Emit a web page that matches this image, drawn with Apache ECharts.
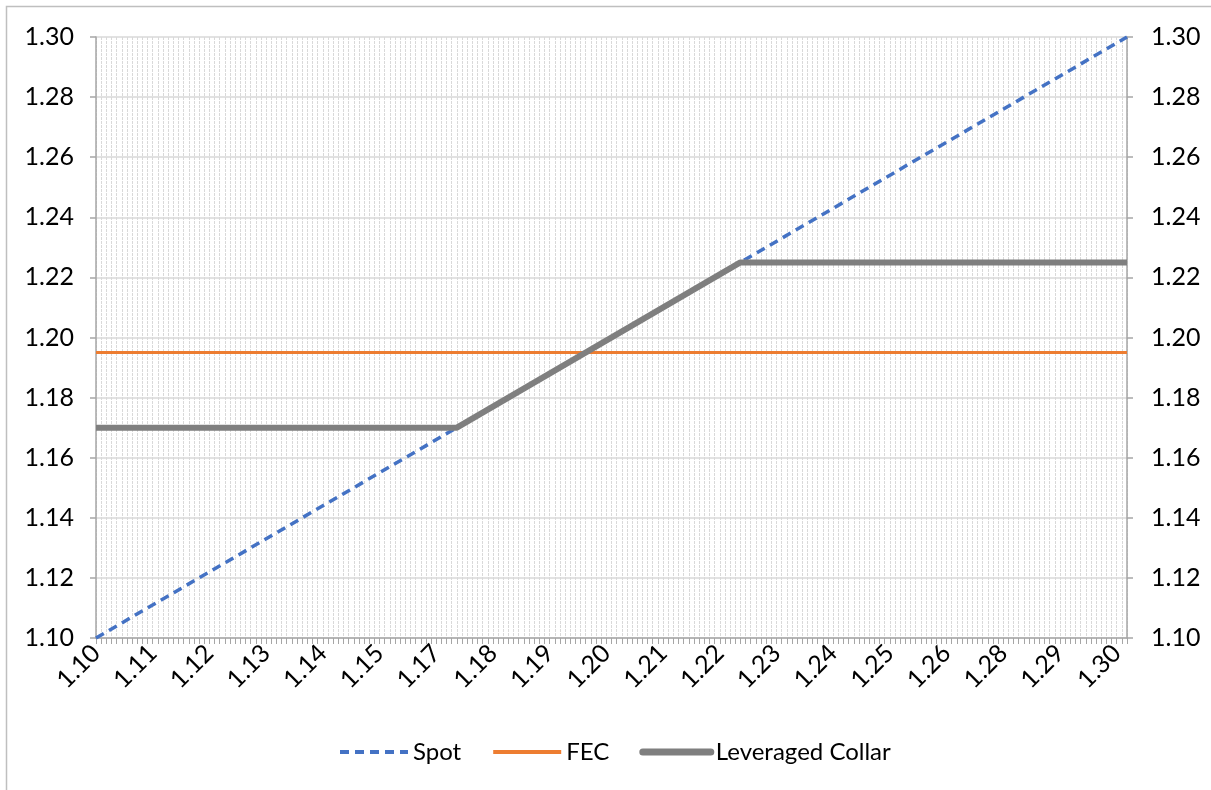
<!DOCTYPE html>
<html>
<head>
<meta charset="utf-8">
<script src="https://cdn.jsdelivr.net/npm/echarts@6/dist/echarts.min.js"></script>
<style>
  html, body { margin: 0; padding: 0; background: #fff; }
  #chart { width: 1211px; height: 790px; }
</style>
</head>
<body>
<div id="chart"></div>
<script>
// x categories: spot rate from 1.100 to 1.300 in steps of 0.001
var xStartMil = 1100;
var xEndMil = 1300;
var categories = [];
for (var m = xStartMil; m <= xEndMil; m++) {
    categories.push((m / 1000).toFixed(3));
}

// labels shown on every 11th category (as printed in the picture)
var xTickLabels = ['1.10', '1.11', '1.12', '1.13', '1.14', '1.15', '1.17', '1.18', '1.19', '1.20',
                   '1.21', '1.22', '1.23', '1.24', '1.25', '1.26', '1.28', '1.29', '1.30'];
var xLabelEvery = 11;

// series values as [category, value]
var spotData = [['1.100', 1.10], ['1.300', 1.30]];
var fecData = [['1.100', 1.195], ['1.300', 1.195]];
var collarData = [['1.100', 1.17], ['1.170', 1.17], ['1.225', 1.225], ['1.300', 1.225]];

var yMin = 1.10, yMax = 1.30, yStep = 0.02;

var myChart = echarts.init(document.getElementById('chart'));

var fontFam = 'Lato, "Open Sans", sans-serif';
var lblSize = 25;

var yAxisBase = {
    type: 'value',
    min: yMin,
    max: yMax,
    interval: yStep,
    axisLine: { show: true, lineStyle: { color: '#a6a6a6', width: 1.5 } },
    axisTick: { show: true, length: 6, lineStyle: { color: '#a6a6a6', width: 1.5 } },
    axisLabel: {
        color: '#000',
        fontSize: lblSize,
        fontFamily: fontFam,
        formatter: function (v) { return v.toFixed(2); }
    }
};

var option = {
    animation: false,
    backgroundColor: '#fff',
    graphic: [{
        type: 'rect',
        shape: { x: 6.5, y: 6.5, width: 1240, height: 820 },
        style: { fill: 'none', stroke: '#bfbfbf', lineWidth: 1.5 },
        z: 100
    }],
    grid: { left: 96, right: 84, top: 37, bottom: 152 },
    legend: {
        top: 735,
        left: 333,
        itemWidth: 68,
        itemHeight: 14,
        itemGap: 30,
        itemStyle: { opacity: 0 },
        textStyle: { fontSize: 24, color: '#000', fontFamily: fontFam },
        data: [
            { name: 'Spot', lineStyle: { width: 4, type: [9, 6] } },
            { name: 'FEC', lineStyle: { width: 4 } },
            { name: 'Leveraged Collar', lineStyle: { width: 7, cap: 'round' } }
        ]
    },
    xAxis: {
        type: 'category',
        boundaryGap: false,
        data: categories,
        axisLine: { lineStyle: { color: '#a6a6a6', width: 1.5 } },
        axisTick: { show: true, interval: 0, length: 6, lineStyle: { color: '#a6a6a6', width: 1 } },
        axisLabel: {
            interval: xLabelEvery - 1,
            rotate: 45,
            margin: 11,
            color: '#000',
            fontSize: lblSize,
            fontFamily: fontFam,
            formatter: function (v, i) {
                return xTickLabels[Math.round(i / xLabelEvery)] || '';
            }
        },
        splitLine: {
            show: true,
            interval: 0,
            lineStyle: { color: '#d9d9d9', width: 1, type: [3, 1] }
        }
    },
    yAxis: [
        Object.assign({}, yAxisBase, {
            position: 'left',
            axisLabel: Object.assign({}, yAxisBase.axisLabel, { margin: 22 }),
            splitLine: { show: true, lineStyle: { color: '#d9d9d9', width: 1.5 } }
        }),
        Object.assign({}, yAxisBase, {
            position: 'right',
            axisLabel: Object.assign({}, yAxisBase.axisLabel, { margin: 24 }),
            splitLine: { show: false }
        })
    ],
    series: [
        {
            name: 'Spot',
            type: 'line',
            data: spotData,
            showSymbol: false,
            symbol: 'none',
            lineStyle: { color: '#4472c4', width: 3.5, type: [9, 6] },
            itemStyle: { color: '#4472c4' },
            z: 2
        },
        {
            name: 'FEC',
            type: 'line',
            data: fecData,
            showSymbol: false,
            symbol: 'none',
            lineStyle: { color: '#ed7d31', width: 3 },
            itemStyle: { color: '#ed7d31' },
            z: 3
        },
        {
            name: 'Leveraged Collar',
            type: 'line',
            data: collarData,
            showSymbol: false,
            symbol: 'none',
            lineStyle: { color: '#7f7f7f', width: 6 },
            itemStyle: { color: '#7f7f7f' },
            z: 4
        }
    ]
};

myChart.setOption(option);
</script>
</body>
</html>
